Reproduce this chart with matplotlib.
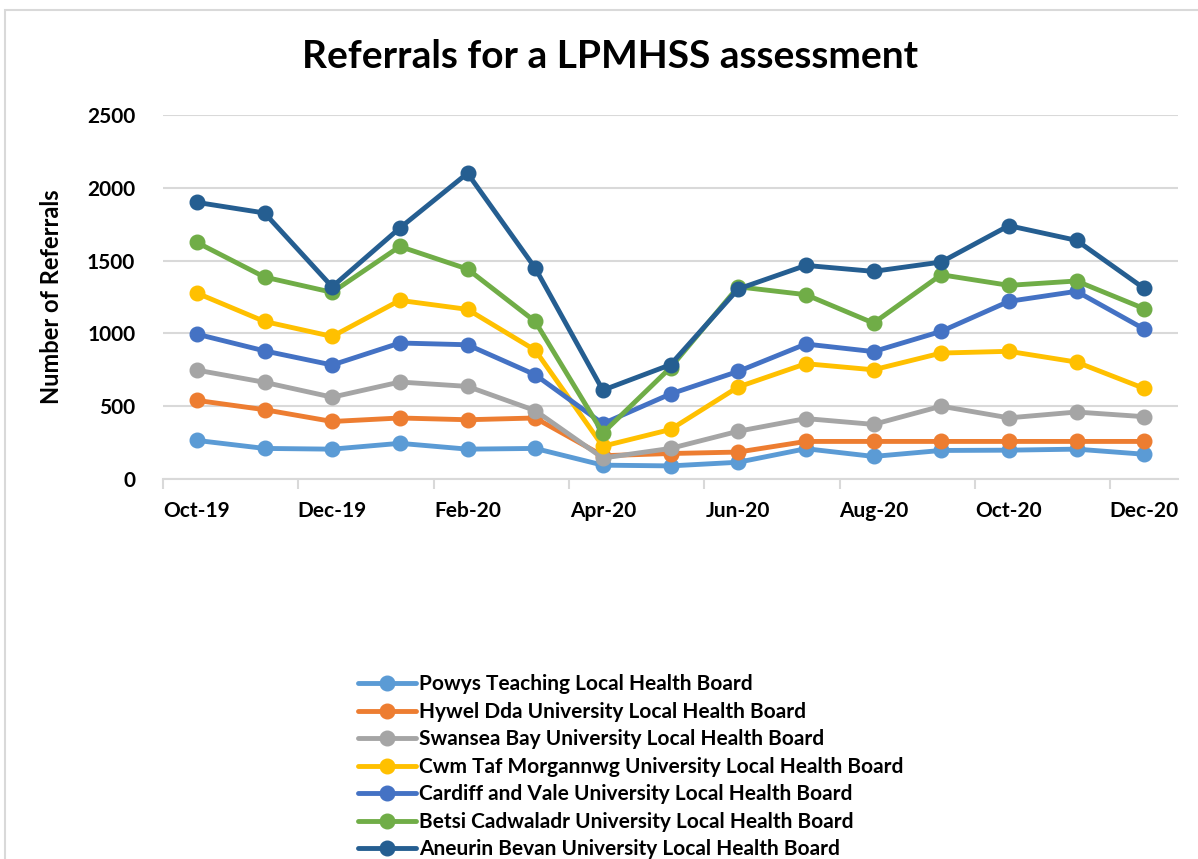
import matplotlib
matplotlib.use("Agg")
import matplotlib.pyplot as plt
from matplotlib.patches import Rectangle

plt.rcParams['font.family'] = ['Lato', 'DejaVu Sans']
plt.rcParams['font.weight'] = 'bold'

months = ["Oct-19", "Nov-19", "Dec-19", "Jan-20", "Feb-20", "Mar-20", "Apr-20",
          "May-20", "Jun-20", "Jul-20", "Aug-20", "Sep-20", "Oct-20", "Nov-20", "Dec-20"]

powys = [265, 210, 205, 245, 205, 210, 95, 90, 115, 208, 155, 196, 198, 205, 170]
hywel_dda = [540, 476, 395, 419, 407, 419, 160, 175, 185, 258, 258, 258, 258, 258, 258]
swansea = [748, 664, 562, 666, 636, 470, 144, 210, 328, 415, 375, 500, 420, 460, 428]
cwm_taf = [1277, 1082, 979, 1227, 1165, 885, 225, 340, 632, 792, 750, 865, 877, 803, 622]
cardiff = [995, 880, 783, 934, 922, 716, 380, 584, 739, 927, 875, 1014, 1220, 1289, 1030]
betsi = [1625, 1387, 1282, 1597, 1442, 1082, 316, 765, 1320, 1266, 1071, 1403, 1330, 1360, 1170]
aneurin = [1900, 1827, 1320, 1724, 2100, 1449, 610, 785, 1305, 1467, 1426, 1490, 1740, 1639, 1309]

series = [
    ("Powys Teaching Local Health Board", powys, "#5B9BD5"),
    ("Hywel Dda University Local Health Board", hywel_dda, "#ED7D31"),
    ("Swansea Bay University Local Health Board", swansea, "#A5A5A5"),
    ("Cwm Taf Morgannwg University Local Health Board", cwm_taf, "#FFC000"),
    ("Cardiff and Vale University Local Health Board", cardiff, "#4472C4"),
    ("Betsi Cadwaladr University Local Health Board", betsi, "#70AD47"),
    ("Aneurin Bevan University Local Health Board", aneurin, "#255E91"),
]

W, H = 1198, 859
fig = plt.figure(figsize=(W / 100, H / 100), dpi=100)
ax = fig.add_axes([163 / W, 1 - 479 / H, (1178 - 163) / W, (479 - 115) / H])

# light chart border
fig.patches.append(Rectangle((5 / W, -0.1), 1.2, 1 - 10 / H + 0.1, transform=fig.transFigure,
                             fill=False, edgecolor="#d9d9d9", linewidth=1.5))

x = list(range(len(months)))
for label, vals, color in series:
    ax.plot(x, vals, color=color, linewidth=3.5, marker="o", markersize=10.5, label=label,
            solid_capstyle="round", solid_joinstyle="round")

ax.set_xlim(-0.5, len(months) - 0.5)
ax.set_ylim(0, 2500)
ax.set_yticks(range(0, 2501, 500))
ax.grid(axis="y", color="#d9d9d9", linewidth=1.5)
ax.set_axisbelow(True)

ax.set_xticks(x[::2])
ax.set_xticklabels(months[::2], fontsize=15, fontweight="bold")
ax.set_xticks([i - 0.5 for i in range(0, len(months), 2)], minor=True)
ax.tick_params(axis="x", which="major", length=0, pad=16)
ax.tick_params(axis="x", which="minor", length=7, color="#d9d9d9", width=1.5)
ax.tick_params(axis="y", length=0, pad=20, labelsize=15)
for lbl in ax.get_yticklabels():
    lbl.set_fontweight("bold")

for side in ["top", "right", "left"]:
    ax.spines[side].set_visible(False)
ax.spines["bottom"].set_color("#d9d9d9")
ax.spines["bottom"].set_linewidth(1.5)

ax.set_ylabel("Number of Referrals", fontsize=17, fontweight="bold")
ax.yaxis.set_label_coords((63 - 163) / (1178 - 163), 0.5)
fig.text(610 / W, 1 - 57 / H, "Referrals for a LPMHSS assessment", fontsize=28,
         fontweight="bold", ha="center", va="center")

fig.legend(loc="upper left", bbox_to_anchor=(350 / W, 1 - 666 / H), frameon=False,
           handlelength=2.75, handletextpad=0.15, labelspacing=0.36,
           borderaxespad=0, prop={"weight": "bold", "size": 15})

fig.savefig("out.png", dpi=100)
